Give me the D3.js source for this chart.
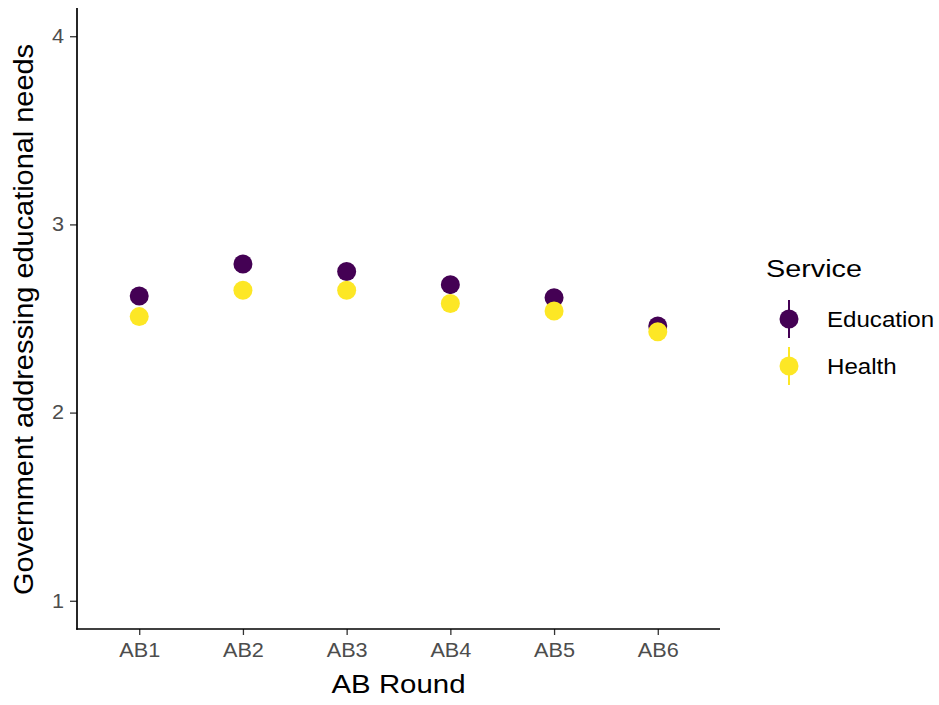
<!DOCTYPE html>
<html>
<head>
<meta charset="utf-8">
<script src="https://cdn.jsdelivr.net/npm/d3@7"></script>
<style>
  html, body { margin: 0; padding: 0; background: #fff; }
  svg { display: block; font-family: "Liberation Sans", Arial, Helvetica, sans-serif; }
</style>
</head>
<body>
<svg id="chart" width="939" height="705"></svg>
<script>
// Survey rounds and mean ratings by service
const rounds = ["AB1", "AB2", "AB3", "AB4", "AB5", "AB6"];
const services = ["Education", "Health"];
const educationMean = [2.62, 2.79, 2.75, 2.68, 2.61, 2.46];
const healthMean    = [2.51, 2.65, 2.65, 2.58, 2.54, 2.43];
const educationLow  = [2.60, 2.77, 2.73, 2.66, 2.59, 2.44];
const educationHigh = [2.64, 2.81, 2.77, 2.70, 2.63, 2.48];
const healthLow     = [2.49, 2.63, 2.63, 2.56, 2.52, 2.41];
const healthHigh    = [2.53, 2.67, 2.67, 2.60, 2.56, 2.45];
const yTicks = [1, 2, 3, 4];
const serviceColors = ["#440154", "#FDE725"];

const rows = [];
rounds.forEach((r, i) => {
  rows.push({ round: r, service: "Education", mean: educationMean[i], low: educationLow[i], high: educationHigh[i] });
  rows.push({ round: r, service: "Health", mean: healthMean[i], low: healthLow[i], high: healthHigh[i] });
});

const svg = d3.select("#chart");
const panel = { left: 77, right: 720, top: 8, bottom: 629 };

const x = d3.scalePoint().domain(rounds).range([panel.left, panel.right]).padding(0.6);
const y = d3.scaleLinear().domain([0.85, 4.15]).range([panel.bottom, panel.top]);
const color = d3.scaleOrdinal().domain(services).range(serviceColors);

// Widen a text run horizontally to the typeface proportions used here
function widen(sel, factor) {
  sel.each(function () {
    const w = this.getComputedTextLength();
    d3.select(this).attr("textLength", w * factor).attr("lengthAdjust", "spacingAndGlyphs");
  });
}
function fitTo(sel, width) {
  sel.attr("textLength", width).attr("lengthAdjust", "spacingAndGlyphs");
}

// Axes
const yAxis = svg.append("g")
  .attr("transform", `translate(${panel.left},0)`)
  .call(d3.axisLeft(y).tickValues(yTicks).tickSize(7).tickPadding(6).tickFormat(d3.format("d")));
const xAxis = svg.append("g")
  .attr("transform", `translate(0,${panel.bottom})`)
  .call(d3.axisBottom(x).tickSize(6).tickPadding(8));

[xAxis, yAxis].forEach(g => {
  g.select(".domain").remove();
  g.attr("font-size", null).attr("font-family", null);
  g.selectAll(".tick line").attr("stroke", "#333333").attr("stroke-width", 1.3);
  g.selectAll(".tick text").attr("fill", "#4D4D4D").attr("font-size", 19.5)
    .call(widen, 1.11);
});

// Axis lines
svg.append("line").attr("x1", panel.left).attr("x2", panel.left)
  .attr("y1", panel.top).attr("y2", panel.bottom + 0.8)
  .attr("stroke", "#000").attr("stroke-width", 1.7);
svg.append("line").attr("x1", panel.left - 0.8).attr("x2", panel.right)
  .attr("y1", panel.bottom).attr("y2", panel.bottom)
  .attr("stroke", "#000").attr("stroke-width", 1.7);

// Point ranges
const marks = svg.append("g");
marks.selectAll("line.range").data(rows).join("line")
  .attr("class", "range")
  .attr("x1", d => x(d.round)).attr("x2", d => x(d.round))
  .attr("y1", d => y(d.low)).attr("y2", d => y(d.high))
  .attr("stroke", d => color(d.service)).attr("stroke-width", 2);
marks.selectAll("circle").data(rows).join("circle")
  .attr("cx", d => x(d.round)).attr("cy", d => y(d.mean)).attr("r", 9.5)
  .attr("fill", d => color(d.service));

// Axis titles
svg.append("text")
  .attr("x", (panel.left + panel.right) / 2).attr("y", 693)
  .attr("text-anchor", "middle").attr("font-size", 25.5).attr("fill", "#000")
  .text("AB Round").call(fitTo, 134);
svg.append("text")
  .attr("transform", `translate(33,319.5) rotate(-90)`)
  .attr("text-anchor", "middle").attr("font-size", 27).attr("fill", "#000")
  .text("Government addressing educational needs").call(fitTo, 551);

// Legend
const legend = svg.append("g");
legend.append("text").attr("x", 766).attr("y", 276.5)
  .attr("font-size", 23.5).attr("fill", "#000").text("Service").call(fitTo, 96);
const keyY = d3.scalePoint().domain(services).range([319, 366]);
services.forEach(s => {
  const cy = keyY(s);
  legend.append("line").attr("x1", 789).attr("x2", 789)
    .attr("y1", cy - 19).attr("y2", cy + 19)
    .attr("stroke", color(s)).attr("stroke-width", 2);
  legend.append("circle").attr("cx", 789).attr("cy", cy).attr("r", 9.5).attr("fill", color(s));
  legend.append("text").attr("x", 827).attr("y", cy + 8)
    .attr("font-size", 21.5).attr("fill", "#000").text(s).call(widen, 1.12);
});
</script>
</body>
</html>
